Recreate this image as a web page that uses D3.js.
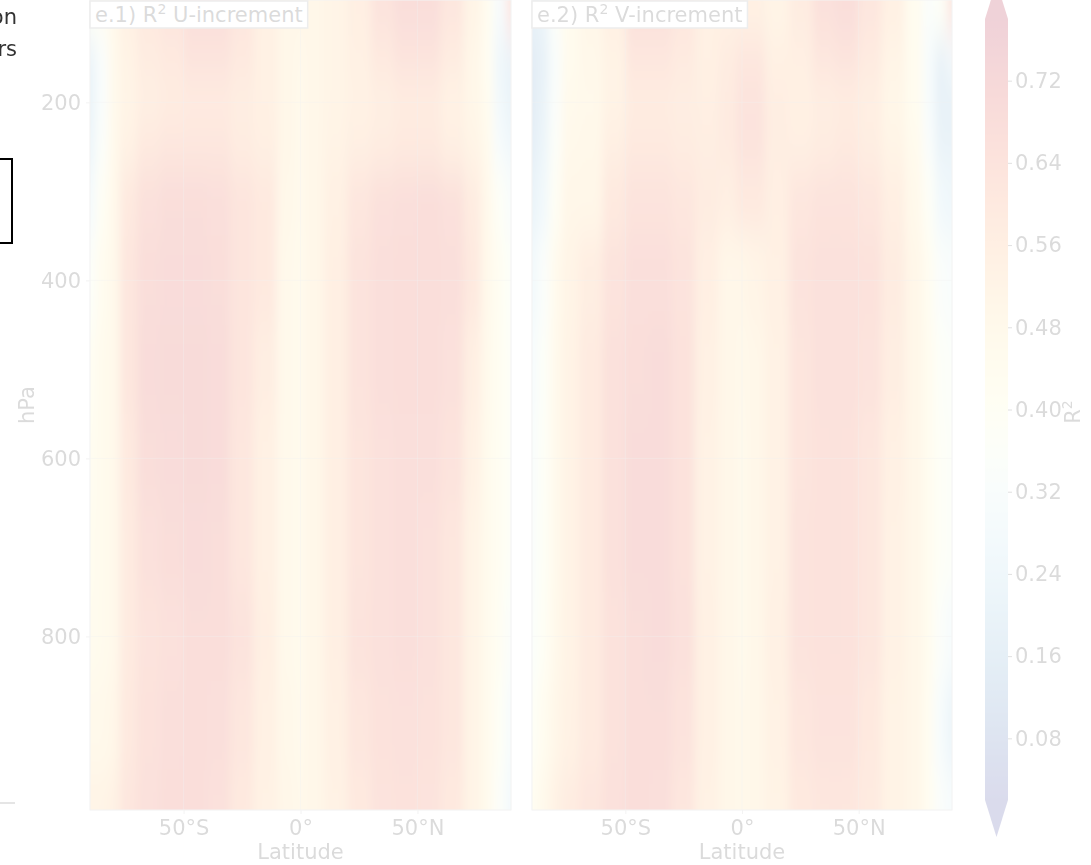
<!DOCTYPE html>
<html>
<head>
<meta charset="utf-8">
<script src="https://cdn.jsdelivr.net/npm/d3@7"></script>
<style>
  body { margin: 0; background: #fff; }
  svg { display: block; font-family: "DejaVu Sans", sans-serif; }
</style>
</head>
<body>
<svg width="1091" height="865"></svg>
<script>
const svg = d3.select("svg");

// latitude of each column, pressure level of each row
const lats = [-90, -85, -80, -75, -65, -55, -45, -35, -25, -15, -5, 0, 5, 15, 25, 35, 45, 55, 65, 75, 80, 85, 90];
const levels = [100, 150, 200, 250, 300, 400, 500, 600, 700, 800, 900, 1000];

// R2 of the U-increment, one row per level
const r2U = [
  [0.38,0.42,0.48,0.55,0.60,0.63,0.67,0.67,0.62,0.55,0.50,0.50,0.50,0.52,0.56,0.64,0.68,0.68,0.62,0.52,0.44,0.30,0.62],
  [0.20,0.32,0.47,0.53,0.58,0.60,0.64,0.64,0.60,0.55,0.50,0.48,0.50,0.52,0.55,0.60,0.64,0.64,0.58,0.50,0.42,0.24,0.20],
  [0.20,0.32,0.47,0.52,0.56,0.58,0.59,0.59,0.57,0.55,0.50,0.47,0.50,0.52,0.54,0.56,0.58,0.58,0.54,0.50,0.44,0.26,0.20],
  [0.22,0.35,0.47,0.54,0.60,0.62,0.62,0.62,0.58,0.56,0.50,0.47,0.50,0.53,0.56,0.58,0.60,0.60,0.56,0.52,0.46,0.30,0.25],
  [0.28,0.40,0.48,0.60,0.66,0.68,0.68,0.67,0.63,0.60,0.49,0.47,0.50,0.55,0.62,0.66,0.67,0.68,0.66,0.58,0.48,0.38,0.32],
  [0.36,0.44,0.48,0.62,0.68,0.69,0.69,0.68,0.63,0.60,0.48,0.46,0.50,0.56,0.64,0.67,0.68,0.68,0.67,0.60,0.48,0.42,0.36],
  [0.41,0.46,0.48,0.62,0.69,0.70,0.70,0.69,0.63,0.57,0.48,0.46,0.50,0.56,0.64,0.67,0.68,0.68,0.66,0.56,0.47,0.42,0.37],
  [0.43,0.46,0.48,0.60,0.68,0.69,0.70,0.69,0.62,0.55,0.48,0.46,0.50,0.56,0.63,0.66,0.67,0.67,0.64,0.54,0.46,0.42,0.37],
  [0.44,0.46,0.48,0.59,0.66,0.68,0.69,0.68,0.62,0.55,0.48,0.46,0.50,0.56,0.63,0.66,0.67,0.66,0.62,0.52,0.46,0.42,0.37],
  [0.45,0.46,0.48,0.59,0.64,0.66,0.68,0.68,0.64,0.56,0.48,0.46,0.50,0.56,0.64,0.66,0.67,0.66,0.62,0.52,0.46,0.41,0.34],
  [0.48,0.48,0.50,0.60,0.65,0.67,0.68,0.67,0.62,0.55,0.49,0.47,0.50,0.55,0.62,0.65,0.66,0.65,0.62,0.52,0.46,0.39,0.30],
  [0.52,0.52,0.54,0.62,0.66,0.68,0.68,0.66,0.60,0.54,0.50,0.48,0.50,0.54,0.60,0.64,0.65,0.64,0.60,0.52,0.46,0.36,0.27]
];

// R2 of the V-increment, one row per level
const r2V = [
  [0.18,0.22,0.36,0.45,0.50,0.56,0.66,0.66,0.62,0.55,0.55,0.55,0.55,0.52,0.58,0.66,0.68,0.62,0.55,0.44,0.34,0.38,0.62],
  [0.14,0.18,0.32,0.45,0.49,0.53,0.62,0.62,0.59,0.55,0.58,0.62,0.62,0.55,0.56,0.62,0.64,0.59,0.52,0.44,0.30,0.18,0.26],
  [0.14,0.20,0.34,0.47,0.48,0.53,0.58,0.58,0.57,0.56,0.59,0.64,0.64,0.57,0.55,0.57,0.58,0.56,0.50,0.44,0.30,0.18,0.18],
  [0.16,0.22,0.36,0.48,0.49,0.56,0.60,0.60,0.58,0.57,0.59,0.64,0.64,0.57,0.56,0.58,0.60,0.57,0.52,0.46,0.33,0.20,0.20],
  [0.20,0.26,0.40,0.50,0.50,0.60,0.64,0.64,0.62,0.58,0.56,0.60,0.60,0.56,0.62,0.64,0.64,0.62,0.56,0.48,0.38,0.26,0.24],
  [0.26,0.34,0.46,0.52,0.57,0.64,0.67,0.67,0.64,0.56,0.50,0.50,0.52,0.55,0.64,0.66,0.66,0.65,0.58,0.50,0.43,0.34,0.32],
  [0.30,0.37,0.47,0.53,0.59,0.66,0.68,0.69,0.65,0.55,0.50,0.48,0.50,0.54,0.63,0.66,0.66,0.64,0.57,0.50,0.44,0.37,0.35],
  [0.32,0.38,0.47,0.53,0.59,0.66,0.69,0.69,0.65,0.54,0.50,0.47,0.50,0.54,0.63,0.65,0.65,0.62,0.55,0.50,0.44,0.38,0.36],
  [0.33,0.39,0.47,0.53,0.59,0.66,0.69,0.69,0.65,0.54,0.50,0.47,0.50,0.54,0.64,0.65,0.65,0.62,0.54,0.50,0.44,0.38,0.36],
  [0.34,0.40,0.48,0.53,0.59,0.65,0.68,0.69,0.66,0.55,0.50,0.47,0.50,0.55,0.64,0.65,0.65,0.62,0.54,0.50,0.44,0.35,0.30],
  [0.38,0.44,0.50,0.54,0.59,0.65,0.68,0.68,0.64,0.55,0.50,0.48,0.50,0.54,0.62,0.64,0.64,0.60,0.53,0.50,0.43,0.30,0.22],
  [0.42,0.48,0.54,0.58,0.62,0.66,0.68,0.67,0.62,0.54,0.50,0.48,0.50,0.53,0.60,0.62,0.62,0.59,0.53,0.50,0.43,0.34,0.30]
];

const latTicks = [-50, 0, 50];
const levelTicks = [200, 400, 600, 800];
const cbarTicks = [0.08, 0.16, 0.24, 0.32, 0.40, 0.48, 0.56, 0.64, 0.72];
const panelTitles = [["e.1) R", "2", " U-increment"], ["e.2) R", "2", " V-increment"]];

const vmin = 0.02, vmax = 0.78;
const color = v => d3.interpolateRdYlBu(1 - (v - vmin) / (vmax - vmin));
const fontSize = 21;
const textCol = "#333";

const y = d3.scaleLinear().domain([85, 995]).range([0, 810]);

// cell edges, edge cells pushed past the frame so the blur has no empty border
const latEdges = [-110].concat(d3.pairs(lats).map(([a, b]) => (a + b) / 2), [110]);
const levEdges = [0].concat(d3.pairs(levels).map(([a, b]) => (a + b) / 2), [1080]);

const defs = svg.append("defs");
defs.append("filter").attr("id", "smooth")
    .attr("filterUnits", "userSpaceOnUse")
    .attr("x", 0).attr("y", -200).attr("width", 1091).attr("height", 1300)
  .append("feGaussianBlur").attr("stdDeviation", "4 20");

// the whole figure is washed out
const fig = svg.append("g").attr("opacity", 0.18);

const panels = [
  { x0: 90, x1: 511, data: r2U, title: panelTitles[0], yAxis: true },
  { x0: 532, x1: 952, data: r2V, title: panelTitles[1], yAxis: false }
];

panels.forEach((p, k) => {
    const x = d3.scaleLinear().domain([-90, 90]).range([p.x0, p.x1]);

    defs.append("clipPath").attr("id", "clip" + k)
      .append("rect").attr("x", p.x0).attr("y", y.range()[0])
        .attr("width", p.x1 - p.x0).attr("height", y.range()[1] - y.range()[0]);

    const cells = [];
    p.data.forEach((row, i) => row.forEach((v, j) => cells.push({i, j, v})));

    fig.append("g").attr("clip-path", `url(#clip${k})`)
      .append("g").attr("filter", "url(#smooth)")
      .selectAll("rect")
      .data(cells)
      .enter().append("rect")
        .attr("x", d => x(latEdges[d.j]))
        .attr("width", d => x(latEdges[d.j + 1]) - x(latEdges[d.j]) + 0.5)
        .attr("y", d => y(levEdges[d.i]))
        .attr("height", d => y(levEdges[d.i + 1]) - y(levEdges[d.i]) + 0.5)
        .attr("fill", d => color(d.v));

    // grid
    const grid = fig.append("g").attr("stroke", "#b0b0b0").attr("stroke-opacity", 0.35);
    grid.selectAll(".gx").data(latTicks).enter().append("line")
        .attr("x1", d => x(d)).attr("x2", d => x(d))
        .attr("y1", y.range()[0]).attr("y2", y.range()[1]);
    grid.selectAll(".gy").data(levelTicks).enter().append("line")
        .attr("x1", p.x0).attr("x2", p.x1)
        .attr("y1", d => y(d)).attr("y2", d => y(d));

    // frame
    fig.append("rect").attr("x", p.x0).attr("y", 0)
        .attr("width", p.x1 - p.x0).attr("height", 810)
        .attr("fill", "none").attr("stroke", "#bbb").attr("stroke-width", 1);

    // x axis
    const xa = fig.append("g").attr("transform", "translate(0,810)")
        .call(d3.axisBottom(x).tickValues(latTicks).tickSize(4).tickPadding(6)
            .tickFormat(d => d === 0 ? "0°" : Math.abs(d) + "°" + (d < 0 ? "S" : "N")));
    xa.select(".domain").remove();
    xa.selectAll("line").attr("stroke", "#bbb");
    xa.selectAll("text").attr("font-size", fontSize).attr("fill", textCol)
        .attr("font-family", "DejaVu Sans");

    fig.append("text").attr("x", (p.x0 + p.x1) / 2).attr("y", 859)
        .attr("text-anchor", "middle").attr("font-size", fontSize).attr("fill", textCol)
        .text("Latitude");

    if (p.yAxis) {
        const ya = fig.append("g").attr("transform", `translate(${p.x0},0)`)
            .call(d3.axisLeft(y).tickValues(levelTicks).tickSize(4).tickPadding(5));
        ya.select(".domain").remove();
        ya.selectAll("line").attr("stroke", "#bbb");
        ya.selectAll("text").attr("font-size", fontSize).attr("fill", textCol)
            .attr("font-family", "DejaVu Sans");
        fig.append("text").attr("transform", "translate(34,405) rotate(-90)")
            .attr("text-anchor", "middle").attr("font-size", fontSize).attr("fill", textCol)
            .text("hPa");
    }

    // panel title box
    const tb = fig.append("g");
    const t = tb.append("text").attr("x", p.x0 + 5).attr("y", 22)
        .attr("font-size", fontSize).attr("fill", textCol);
    t.append("tspan").text(p.title[0]);
    t.append("tspan").attr("font-size", 14).attr("dy", -8).text(p.title[1]);
    t.append("tspan").attr("dy", 8).text(p.title[2]);
    const bb = t.node().getBBox();
    tb.insert("rect", "text").attr("x", p.x0).attr("y", 1)
        .attr("width", bb.width + 10).attr("height", 27)
        .attr("fill", "#fff").attr("stroke", "#999").attr("stroke-width", 1.5);
});

// colorbar
const cb = { x: 985, w: 23, top: 19, bottom: 800, tip: 37 };
const cy = d3.scaleLinear().domain([vmin, vmax]).range([cb.bottom, cb.top]);

const grad = defs.append("linearGradient").attr("id", "cbar")
    .attr("x1", 0).attr("y1", 1).attr("x2", 0).attr("y2", 0);
grad.selectAll("stop").data(d3.range(0, 1.0001, 0.05)).enter().append("stop")
    .attr("offset", d => d)
    .attr("stop-color", d => color(vmin + d * (vmax - vmin)));

fig.append("rect").attr("x", cb.x).attr("y", cb.top)
    .attr("width", cb.w).attr("height", cb.bottom - cb.top)
    .attr("fill", "url(#cbar)");
fig.append("path")
    .attr("d", `M${cb.x},${cb.top} L${cb.x + cb.w / 2},${cb.top - cb.tip} L${cb.x + cb.w},${cb.top} Z`)
    .attr("fill", d3.interpolateRdYlBu(0));
fig.append("path")
    .attr("d", `M${cb.x},${cb.bottom} L${cb.x + cb.w / 2},${cb.bottom + cb.tip} L${cb.x + cb.w},${cb.bottom} Z`)
    .attr("fill", d3.interpolateRdYlBu(1));

const ca = fig.append("g").attr("transform", `translate(${cb.x + cb.w},0)`)
    .call(d3.axisRight(cy).tickValues(cbarTicks).tickSize(4).tickPadding(3).tickFormat(d3.format(".2f")));
ca.select(".domain").remove();
ca.selectAll("line").attr("stroke", "#555");
ca.selectAll("text").attr("font-size", fontSize).attr("fill", textCol)
    .attr("font-family", "DejaVu Sans");

const cl = fig.append("text").attr("transform", "translate(1080,412) rotate(-90)")
    .attr("text-anchor", "middle").attr("font-size", fontSize).attr("fill", textCol);
cl.append("tspan").text("R");
cl.append("tspan").attr("font-size", 14).attr("dy", -8).text("2");

// bits of the neighbouring figure that show at the left edge
svg.append("text").attr("x", 17).attr("y", 24).attr("text-anchor", "end")
    .attr("font-size", fontSize).attr("fill", "#333").text("on");
svg.append("text").attr("x", 17).attr("y", 56).attr("text-anchor", "end")
    .attr("font-size", fontSize).attr("fill", "#333").text("rs");
svg.append("path").attr("d", "M0,159 H12 V243 H0")
    .attr("fill", "none").attr("stroke", "#000").attr("stroke-width", 2);
svg.append("line").attr("x1", 0).attr("x2", 15).attr("y1", 803).attr("y2", 803)
    .attr("stroke", "#ddd").attr("stroke-width", 1.5);
</script>
</body>
</html>
